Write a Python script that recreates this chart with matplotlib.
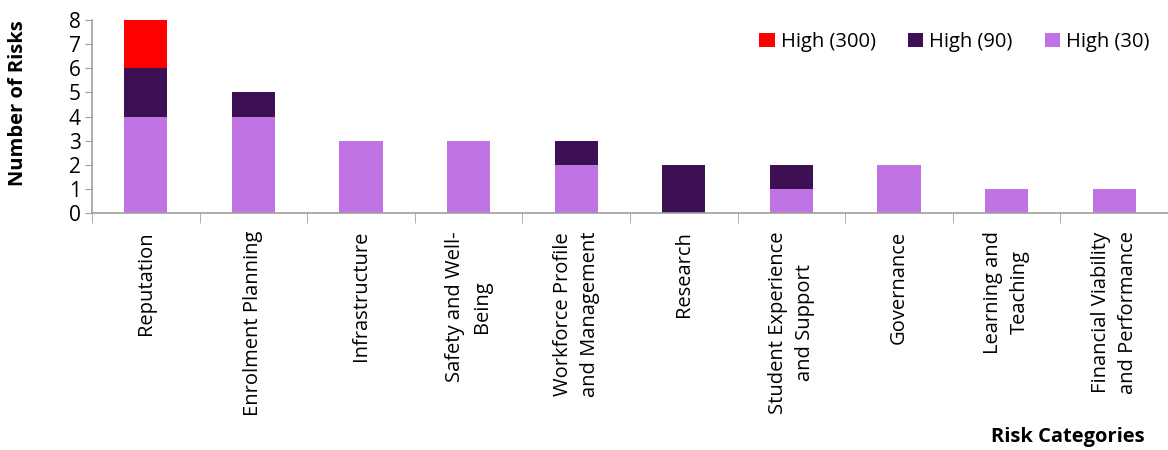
import numpy as np
import matplotlib.pyplot as plt

# data
categories = ['Reputation', 'Enrolment Planning', 'Infrastructure', 'Safety and Well-\nBeing',
              'Workforce Profile\nand Management', 'Research', 'Student Experience\nand Support',
              'Governance', 'Learning and\nTeaching', 'Financial Viability\nand Performance']
high_30 = [4, 4, 3, 3, 2, 0, 1, 2, 1, 1]
high_90 = [2, 1, 0, 0, 1, 2, 1, 0, 0, 0]
high_300 = [2, 0, 0, 0, 0, 0, 0, 0, 0, 0]

plt.rcParams['font.family'] = ['Open Sans', 'DejaVu Sans']

fig = plt.figure(figsize=(11.68, 4.5), dpi=100)
ax = fig.add_axes([92 / 1168, 1 - 213 / 450, 1076 / 1168, 193 / 450])

x = np.arange(len(categories))
b30 = np.array(high_30)
b90 = np.array(high_90)
w = 0.4
ax.bar(x, high_30, w, color='#C074E4', label='High (30)', zorder=2)
ax.bar(x, high_90, w, bottom=b30, color='#3C1053', label='High (90)', zorder=2)
ax.bar(x, high_300, w, bottom=b30 + b90, color='#FF0000', label='High (300)', zorder=2)

ax.set_xlim(-0.5, len(categories) - 0.5)
ax.set_ylim(0, 8)
ax.set_yticks(range(0, 9))
ax.tick_params(axis='y', labelsize=15, length=5, color='#A0A0A0', pad=3)

ax.set_xticks(x)
ax.set_xticklabels(categories, rotation=90, fontsize=14.5, ha='center', va='top',
                   multialignment='center', linespacing=1.45)
ax.tick_params(axis='x', length=0, pad=13)
ax.set_xticks(np.arange(-0.5, len(categories), 1), minor=True)
ax.tick_params(axis='x', which='minor', length=7, color='#A0A0A0')

for s in ['top', 'right']:
    ax.spines[s].set_visible(False)
for s in ['left', 'bottom']:
    ax.spines[s].set_color('#A0A0A0')
    ax.spines[s].set_linewidth(1.2)

handles, labels = ax.get_legend_handles_labels()
ax.legend(handles[::-1], labels[::-1], ncol=3, frameon=False, fontsize=14.5,
          loc='center right', bbox_to_anchor=(0.99, (213 - 42) / 193), borderaxespad=0,
          handlelength=0.75, handleheight=0.75, handletextpad=0.3, columnspacing=1.6)

fig.text(18 / 1168, 1 - 103 / 450, 'Number of Risks', rotation=90, fontsize=14.5,
         fontweight='bold', ha='center', va='center')
fig.text(1145 / 1168, 1 - 437 / 450, 'Risk Categories', fontsize=14.5,
         fontweight='bold', ha='right', va='center')

fig.savefig('out.png', dpi=100)
